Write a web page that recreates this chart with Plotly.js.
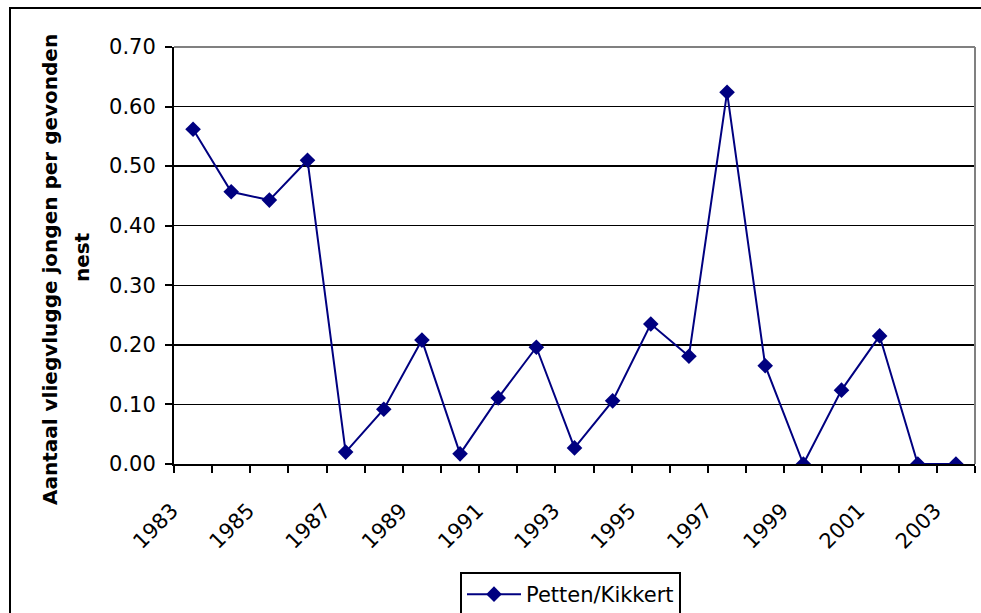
<!DOCTYPE html>
<html>
<head>
<meta charset="utf-8">
<script src="https://cdn.plot.ly/plotly-3.0.1.min.js"></script>
<style>
  html, body { margin: 0; padding: 0; background: #fff; overflow: hidden; }
  #chart { width: 981px; height: 613px; }
  #frame { position: absolute; left: 9px; top: 7px; width: 1100px; height: 800px;
           border: 2px solid #000; pointer-events: none; }
</style>
</head>
<body>
<div id="chart"></div>
<div id="frame"></div>
<script>
const years = ['1983','1984','1985','1986','1987','1988','1989','1990','1991','1992','1993',
               '1994','1995','1996','1997','1998','1999','2000','2001','2002','2003'];
const values = [0.562, 0.457, 0.443, 0.510, 0.020, 0.092, 0.208, 0.017, 0.111, 0.196, 0.027,
                0.106, 0.235, 0.181, 0.624, 0.165, 0.000, 0.124, 0.215, 0.000, 0.000];
const seriesName = 'Petten/Kikkert';
const yTitleLines = ['Aantaal vliegvlugge jongen per gevonden', 'nest'];
const yTicks = [0, 0.1, 0.2, 0.3, 0.4, 0.5, 0.6, 0.7];

const idx = years.map((_, i) => i);
const labelIdx = idx.filter(i => i % 2 === 0);
const boundaries = idx.concat([years.length]).map(i => i - 0.5);

const font = 'DejaVu Sans, Arial, sans-serif';
const fs = 21;

const trace = {
  type: 'scatter', mode: 'lines+markers', name: seriesName,
  x: idx, y: values,
  line: { color: '#000080', width: 2 },
  marker: { symbol: 'diamond', size: 12, color: '#000080' }
};

const titleFont = { family: font, size: 20, color: '#000', weight: 'bold' };

const layout = {
  width: 981, height: 613,
  margin: { l: 174, r: 6, t: 47, b: 149, autoexpand: false },
  paper_bgcolor: '#fff', plot_bgcolor: '#fff',
  font: { family: font, size: fs, color: '#000' },
  showlegend: true,
  legend: {
    x: (460 - 174) / 801, xanchor: 'left', y: -0.259, yanchor: 'top',
    bordercolor: '#000', borderwidth: 2, bgcolor: '#fff', itemwidth: 54,
    font: { family: font, size: fs, color: '#000' }
  },
  xaxis: {
    range: [-0.5, years.length - 0.5],
    tickmode: 'array', tickvals: labelIdx, ticktext: labelIdx.map(i => years[i]),
    tickangle: -45, ticks: '', showgrid: false, zeroline: false,
    ticklabelstandoff: 24, ticklabelshift: -21,
    showline: true, linecolor: '#000', linewidth: 2,
    tickfont: { family: font, size: fs, color: '#000' },
    minor: { tickmode: 'array', tickvals: boundaries, ticks: 'outside', ticklen: 7, tickwidth: 2, tickcolor: '#000', showgrid: false }
  },
  yaxis: {
    range: [0, 0.7], tickmode: 'array', tickvals: yTicks, tickformat: '.2f',
    ticks: 'outside', ticklen: 7, tickwidth: 2, tickcolor: '#000',
    ticklabelstandoff: 5,
    showgrid: true, gridcolor: '#000', gridwidth: 1.5, zeroline: false,
    showline: true, linecolor: '#000', linewidth: 2,
    tickfont: { family: font, size: fs, color: '#000' }
  },
  annotations: [
    { text: yTitleLines[0], xref: 'paper', yref: 'paper', x: (50 - 174) / 801, y: (464 - 270) / 417,
      xanchor: 'center', yanchor: 'middle', textangle: -90, showarrow: false, font: titleFont },
    { text: yTitleLines[1], xref: 'paper', yref: 'paper', x: (82 - 174) / 801, y: (464 - 257) / 417,
      xanchor: 'center', yanchor: 'middle', textangle: -90, showarrow: false, font: titleFont }
  ],
  shapes: [
    { type: 'line', xref: 'paper', yref: 'paper', x0: 0, x1: 1, y0: 1, y1: 1, line: { color: '#808080', width: 2 } },
    { type: 'line', xref: 'paper', yref: 'paper', x0: 1, x1: 1, y0: 0, y1: 1, line: { color: '#808080', width: 2 } }
  ]
};

Plotly.newPlot('chart', [trace], layout, { displayModeBar: false, staticPlot: true });
</script>
</body>
</html>
